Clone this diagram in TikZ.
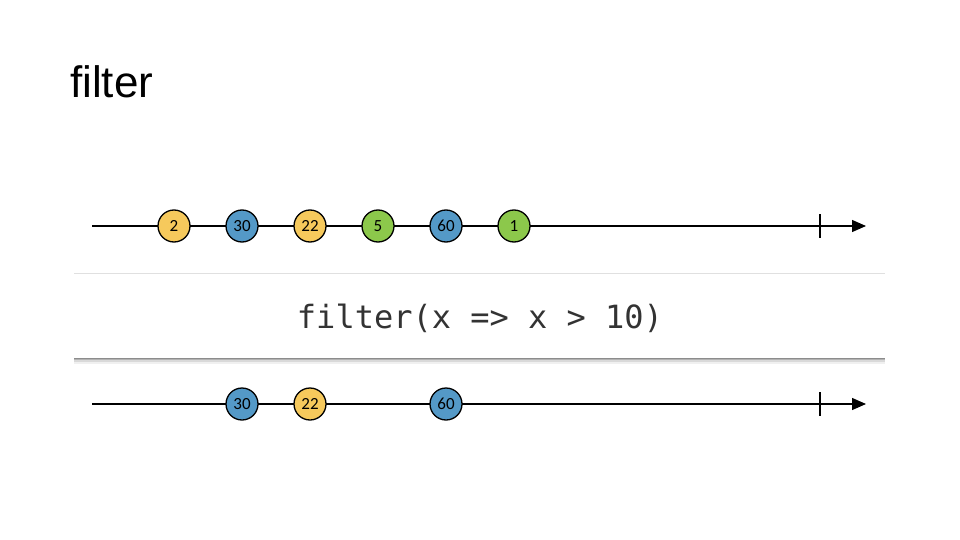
\documentclass[tikz,border=0pt]{standalone}
\usepackage{fontspec}
\setmainfont{Liberation Sans}
\newfontfamily\marblefont{Carlito}
\newfontfamily\codefont{DejaVu Sans Mono}
\usetikzlibrary{arrows.meta,shadows}
\definecolor{myyellow}{HTML}{F6C95C}
\definecolor{myblue}{HTML}{5499C7}
\definecolor{mygreen}{HTML}{8CC84B}
\tikzset{
  marble/.style={circle,draw=black,line width=1.3pt,minimum size=32pt,inner sep=0pt,font=\marblefont\fontsize{17}{17}\selectfont},
  timeline/.style={line width=1.3pt,-{Triangle[length=14pt,width=12pt]}},
  tickmark/.style={line width=1.3pt}
}
\begin{document}
\begin{tikzpicture}[x=1pt,y=-1pt]
\useasboundingbox (0,0) rectangle (960,540);
\fill[white] (0,0) rectangle (960,540);
\node[anchor=base west,font=\fontsize{44}{44}\selectfont,inner sep=0pt] (title) at (70,98) {filter};
% top timeline
\coordinate (s1) at (92,226);
\coordinate (e1) at (866,226);
\draw[timeline] (s1) -- (e1);
\coordinate (t1a) at (820,214);
\coordinate (t1b) at (820,238);
\draw[tickmark] (t1a) -- (t1b);
\node[marble,fill=myyellow] (a1) at (174,226) {2};
\node[marble,fill=myblue] (a2) at (242,226) {30};
\node[marble,fill=myyellow] (a3) at (310,226) {22};
\node[marble,fill=mygreen] (a4) at (378,226) {5};
\node[marble,fill=myblue] (a5) at (446,226) {60};
\node[marble,fill=mygreen] (a6) at (514,226) {1};
% operator box
\fill[black!30] (74,358) rectangle (885,360);
\fill[black!15] (74,360) rectangle (885,362);
\fill[black!6] (74,362) rectangle (885,364);
\fill[white] (74,273) rectangle (885,358);
\draw[black!12,line width=1pt] (74,273) -- (885,273);
\draw[black!45,line width=1pt] (74,358) -- (885,358);
\node[font=\codefont\fontsize{32}{32}\selectfont,text=black!80] (op) at (480,318) {filter(x => x > 10)};
% bottom timeline
\coordinate (s2) at (92,404);
\coordinate (e2) at (866,404);
\draw[timeline] (s2) -- (e2);
\coordinate (t2a) at (820,392);
\coordinate (t2b) at (820,416);
\draw[tickmark] (t2a) -- (t2b);
\node[marble,fill=myblue] (b1) at (242,404) {30};
\node[marble,fill=myyellow] (b2) at (310,404) {22};
\node[marble,fill=myblue] (b3) at (446,404) {60};
\end{tikzpicture}
\end{document}
